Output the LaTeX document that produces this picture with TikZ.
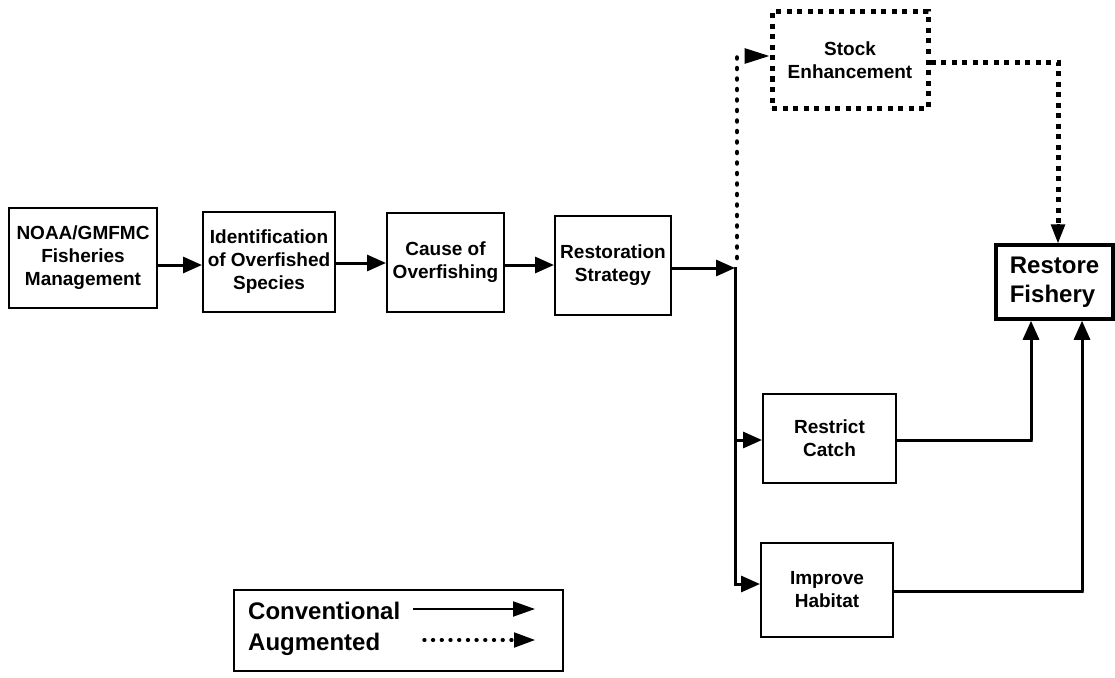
\documentclass[tikz,border=0pt]{standalone}
\usepackage{fontspec}
\setmainfont{Liberation Sans}
\usetikzlibrary{arrows.meta}
\begin{document}
\begin{tikzpicture}[x=1pt,y=-1pt,
  box/.style={draw, line width=2pt, inner sep=0pt, align=center,
    font=\fontsize{19}{23}\selectfont\bfseries},
  conn/.style={line width=3pt, -{Triangle[length=19pt,width=16pt]}},
  link/.style={line width=3pt},
  rdots/.style={line width=4.5pt, line cap=round, dash pattern=on 1pt off 9.5pt},
  sqdots/.style={line width=5pt, dash pattern=on 5pt off 5.5pt},
  legtext/.style={font=\fontsize{24}{28}\selectfont\bfseries, inner sep=0pt, anchor=base west},
]
\useasboundingbox (0,0) rectangle (1115,677);
\fill[white] (0,0) rectangle (1115,677);

% boxes
\node[box, minimum width=148pt, minimum height=100pt] (noaa) at (83,258) {NOAA/GMFMC\\Fisheries\\Management};
\node[box, minimum width=132pt, minimum height=100pt] (ident) at (269,262) {Identification\\of Overfished\\Species};
\node[box, minimum width=117pt, minimum height=99pt] (cause) at (445.5,262.5) {Cause of\\Overfishing};
\node[box, minimum width=116pt, minimum height=99pt] (rest) at (613,265.5) {Restoration\\Strategy};
\node[box, sqdots, minimum width=156pt, minimum height=96pt] (stock) at (850,60) {Stock\\Enhancement};
\node[box, line width=3.5pt, align=left, minimum width=117pt, minimum height=74pt,
  font=\fontsize{24}{29}\selectfont\bfseries] (fish) at (1054.5,282) {Restore\\Fishery};
\node[box, minimum width=133pt, minimum height=89pt] (catch) at (829.5,438.5) {Restrict\\Catch};
\node[box, minimum width=132pt, minimum height=94pt] (habitat) at (827,590) {Improve\\Habitat};

% main chain
\draw[conn] (noaa.east |- 0,265) -- (ident.west |- 0,265);
\draw[conn] (ident.east |- 0,263) -- (cause.west |- 0,263);
\draw[conn] (cause.east |- 0,265) -- (rest.west |- 0,265);
\coordinate (J) at (735,268);
\draw[conn] (rest.east |- J) -- (J);

% branch conventional
\coordinate (JR) at (735,440);
\coordinate (JI) at (735,584);
\draw[link] (735,266.5) -- (JI);
\draw[conn] (JR) -- (catch.west |- JR);
\draw[conn] ([xshift=-1.5pt]JI) -- (habitat.west |- JI);

\coordinate (c1) at (1031,440);
\coordinate (c2) at (1082,591);
\draw[conn] (catch.east |- c1) -- ([xshift=1.5pt]c1) -- (c1) -- (c1 |- fish.south);
\draw[conn] (habitat.east |- c2) -- ([xshift=1.5pt]c2) -- (c2) -- (c2 |- fish.south);

% augmented
\coordinate (T) at (737,55);
\draw[rdots] (737,258) -- (T);
\draw[line width=3pt, -{Triangle[length=25pt,width=15pt]}] (747,56) -- (stock.west |- 0,56);
\coordinate (c3) at (1058,62);
\draw[sqdots] (stock.east |- c3) -- (c3) -- (1058,226);
\draw[line width=3pt, -{Triangle[length=19pt,width=14pt]}] (1058,224) -- (c3 |- fish.north);

% legend
\node[draw, line width=2pt, minimum width=329pt, minimum height=81pt, inner sep=0pt] (legend) at (398.5,630.5) {};
\node[legtext] (lconv) at (248,619) {Conventional};
\node[legtext] (laug) at (248,650) {Augmented};
\coordinate (a1) at (413,609);
\coordinate (a2) at (535,609);
\draw[line width=2pt, -{Triangle[length=22pt,width=15pt]}] (a1) -- (a2);
\coordinate (b1) at (424,640);
\coordinate (b2) at (535,640);
\draw[line width=3.5pt, line cap=round, dash pattern=on 0.8pt off 7.9pt] (b1) -- (515,640);
\draw[line width=2pt, -{Triangle[length=21pt,width=15pt]}] (514,640) -- (b2);
\end{tikzpicture}
\end{document}
